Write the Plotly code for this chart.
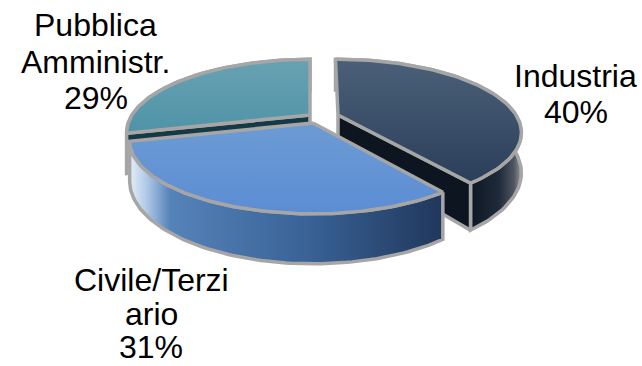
import numpy as np
import plotly.graph_objects as go

# Chart data
categories = ["Industria", "Civile/Terzi ario", "Pubblica Amministr."]
values = [40, 31, 29]
label_lines = [["Industria", "40%"], ["Civile/Terzi", "ario", "31%"], ["Pubblica", "Amministr.", "29%"]]

# Exploded apex of each wedge, in canvas pixels
apex_x = [338, 313, 310]
apex_y = [115, 123, 115]
wedge_turn = [-1, 0, 0]

# Tilted-disc projection
RX, RY, PERSP, DEPTH = 178, 69, 0.24, 38
EDGE = "#a6a6a6"

top_stops = [
    ["#4b6078", "#2a3e5a"],
    ["#6c9bd3", "#5c8dd4"],
    ["#68a2b2", "#4f93a8"],
]
wall_stops = [
    [[0, "#0b131e"], [0.72, "#0d1622"], [0.88, "#1f2a3a"], [0.96, "#50565f"], [1, "#93979c"]],
    [[0, "#e6eef7"], [0.05, "#b4cce8"], [0.13, "#5582b9"], [0.55, "#3a6498"], [1, "#20375c"]],
    [[0, "#93b3cf"], [1, "#2e6d80"]],
]
cut_colors = ["#0c1520", None, "#153a46"]
cut_edge = ["end", None, "start"]
label_x = [575.5, 151, 95.5]
label_y = [[76, 112], [280, 314, 347], [25, 62, 98]]


def project(deg, cx, cy, radius=1.0, drop=False):
    t = np.radians(deg)
    px, py = radius * np.sin(t), -radius * np.cos(t)
    w = 1 - PERSP * py
    sx = cx + RX * px / w
    sy = cy + RY * py / w
    if drop:
        sy = sy + DEPTH / w
    return sx, sy


def poly(xs, ys, fill_spec):
    return go.Scatter(
        x=xs, y=ys, mode="lines", fill="toself",
        line=dict(color=EDGE, width=3.5, shape="linear"),
        hoverinfo="skip", showlegend=False, **fill_spec,
    )


def grad(kind, stops):
    return dict(fillgradient=dict(type=kind, colorscale=stops))


# Sweep angles come from the shares, clockwise from twelve o'clock
edges = np.concatenate([[0], np.cumsum(values)]) * 3.6
fig = go.Figure()

# Back wedges first, the front wedge last so that it covers their cut faces
for i in [2, 0, 1]:
    a0, a1 = edges[i] + wedge_turn[i], edges[i + 1] + wedge_turn[i]
    cx, cy = apex_x[i], apex_y[i]
    arc = np.linspace(a0, a1, 90)
    tx, ty = project(arc, cx, cy)
    bx, by = project(arc, cx, cy, drop=True)

    # Outer wall
    fig.add_trace(poly(np.r_[tx, bx[::-1], tx[0]], np.r_[ty, by[::-1], ty[0]],
                       grad("horizontal", wall_stops[i])))

    # Radial cut face
    if cut_colors[i]:
        a = a1 if cut_edge[i] == "end" else a0
        ox, oy = project(a, cx, cy)
        ux, uy = project(a, cx, cy, drop=True)
        fig.add_trace(poly([cx, ox, ux, cx, cx], [cy, oy, uy, cy + DEPTH, cy],
                           dict(fillcolor=cut_colors[i])))

    # Top face
    fig.add_trace(poly(np.r_[cx, tx, cx], np.r_[cy, ty, cy],
                       grad("vertical", [[0, top_stops[i][1]], [1, top_stops[i][0]]])))

annotations = []
for lines, lx, ys in zip(label_lines, label_x, label_y):
    for line, ly in zip(lines, ys):
        annotations.append(dict(x=lx, y=ly, text=line, showarrow=False, xref="x", yref="y",
                                xanchor="center", yanchor="middle",
                                font=dict(family="Liberation Sans, Arial, sans-serif", size=32, color="black")))

fig.update_layout(
    width=642, height=366, margin=dict(l=0, r=0, t=0, b=0),
    paper_bgcolor="white", plot_bgcolor="white", showlegend=False,
    xaxis=dict(range=[0, 642], visible=False, fixedrange=True),
    yaxis=dict(range=[366, 0], visible=False, fixedrange=True),
    annotations=annotations,
)
fig.write_html("out.html", config=dict(displayModeBar=False))
